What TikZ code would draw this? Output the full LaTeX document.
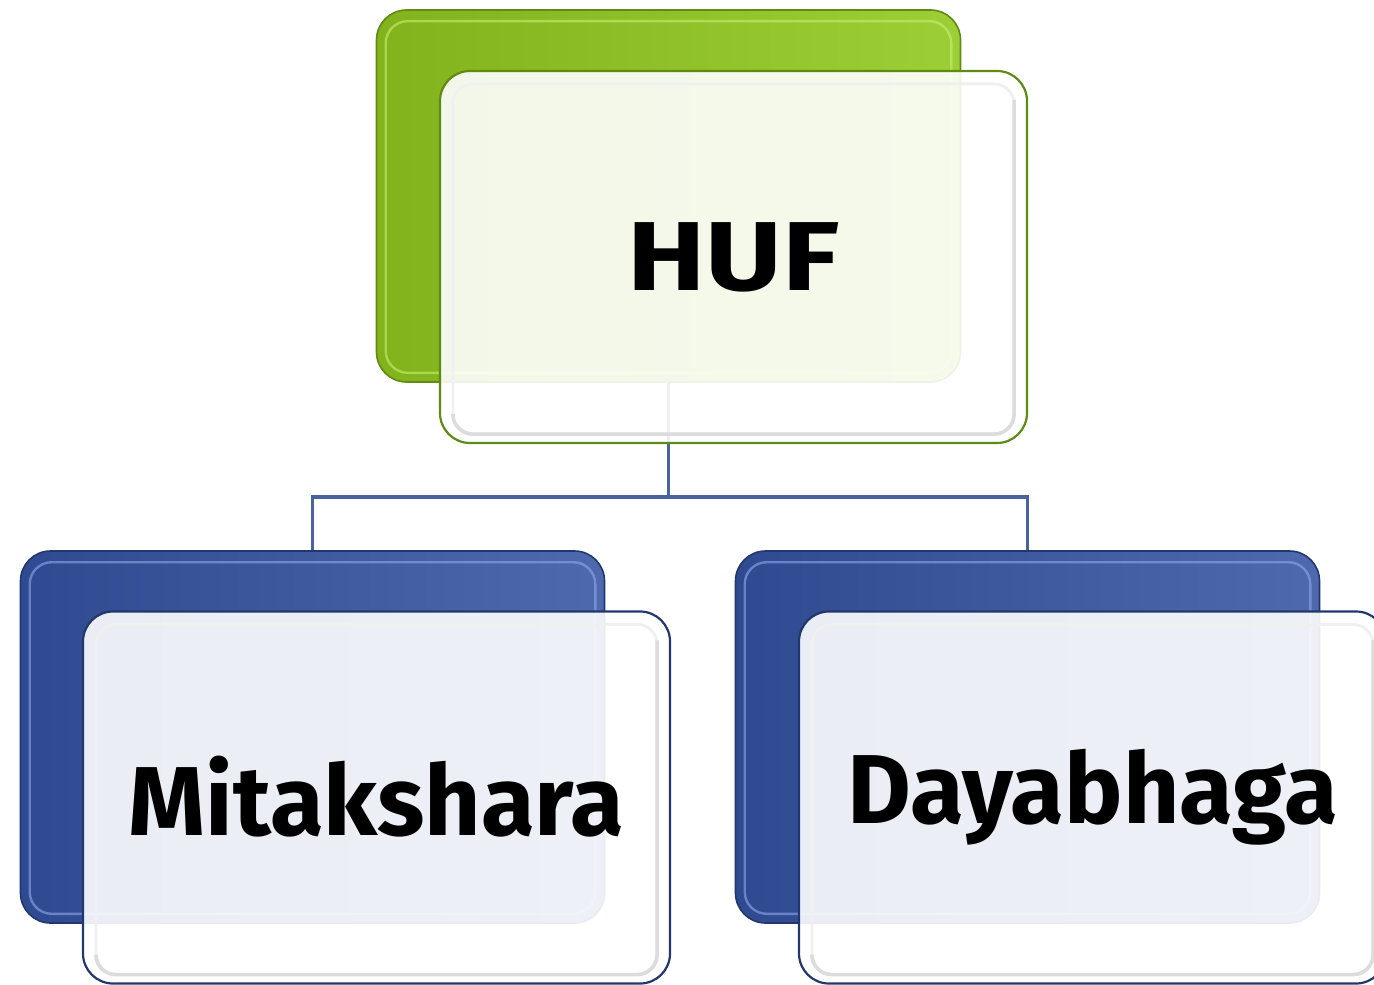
\documentclass[tikz,border=0pt]{standalone}
\usepackage{fontspec}
\setmainfont{Fira Sans}
\usetikzlibrary{calc}
\definecolor{gA}{HTML}{82B21C}
\definecolor{gB}{HTML}{9CCF36}
\definecolor{gLine}{HTML}{5F8A14}
\definecolor{gHi}{HTML}{C4F070}
\definecolor{bA}{HTML}{2F4A90}
\definecolor{bB}{HTML}{4E69AD}
\definecolor{bLine}{HTML}{22376E}
\definecolor{bHi}{HTML}{8FA8EE}
\definecolor{conn}{HTML}{4A63A0}
\definecolor{innerG}{HTML}{DCDCDC}
\definecolor{innerL}{HTML}{F0F0F0}
\tikzset{
  backbox/.style={rounded corners=15pt, inner sep=0pt, minimum width=292pt, minimum height=186pt, shading angle=75},
  greenback/.style={backbox, left color=gA, right color=gB, draw=gLine, line width=0.8pt},
  blueback/.style={backbox, left color=bA, right color=bB, draw=bLine, line width=0.8pt},
  frontbox/.style={rounded corners=15pt, inner sep=0pt, minimum width=293.5pt, minimum height=186pt,
    fill=white, fill opacity=0.9, text opacity=1, line width=1.1pt, font=\bfseries\fontsize{49}{52}\selectfont},
  hiline/.style={rounded corners=11pt, line width=1.2pt, opacity=0.6},
  innerlight/.style={rounded corners=10pt, line width=1.4pt, draw=innerL},
  innerline/.style={rounded corners=10pt, line width=1.8pt, draw=innerG},
  connline/.style={draw=conn, line width=1.6pt},
}
\begin{document}
\begin{tikzpicture}[x=0.5pt,y=-0.5pt]
\useasboundingbox (0,0) rectangle (1374,984);
\clip (0,0) rectangle (1374,984);
% back boxes
\node[greenback] (hufback) at (668.5,196) {};
\node[blueback] (mitback) at (312.5,737) {};
\node[blueback] (dayback) at (1027.5,737) {};
% bevel highlights
\draw[hiline, draw=gHi] ($(hufback.north west)+(10,12)$) rectangle ($(hufback.south east)+(-10,-10)$);
\draw[hiline, draw=bHi] ($(mitback.north west)+(10,12)$) rectangle ($(mitback.south east)+(-10,-10)$);
\draw[hiline, draw=bHi] ($(dayback.north west)+(10,12)$) rectangle ($(dayback.south east)+(-10,-10)$);
% connectors
\coordinate (j) at (668.5,497);
\draw[connline] (hufback.south) -- (j) -| (mitback.north);
\draw[connline] (j) -| (dayback.north);
% front boxes
\node[frontbox, draw=gLine] (huf) at (733.5,257) {\scalebox{1.2}[1]{HUF}};
\node[frontbox, draw=bLine] (mit) at (376.5,797.5) {\raisebox{2pt}{Mitakshara}};
\node[frontbox, draw=bLine] (day) at (1092.5,797.5) {Dayabhaga};
% inner rims of front boxes
\foreach \n in {huf,mit,day}{
  \draw[innerlight] ($(\n.north west)+(14,14)$) rectangle ($(\n.south east)+(-14,-10)$);
  \draw[innerline] ($(\n.north east)+(-14,30)$) -- ($(\n.south east)+(-14,-10)$) -- ($(\n.south west)+(14,-10)$) -- ($(\n.south west)+(14,-30)$);
}
\end{tikzpicture}
\end{document}
